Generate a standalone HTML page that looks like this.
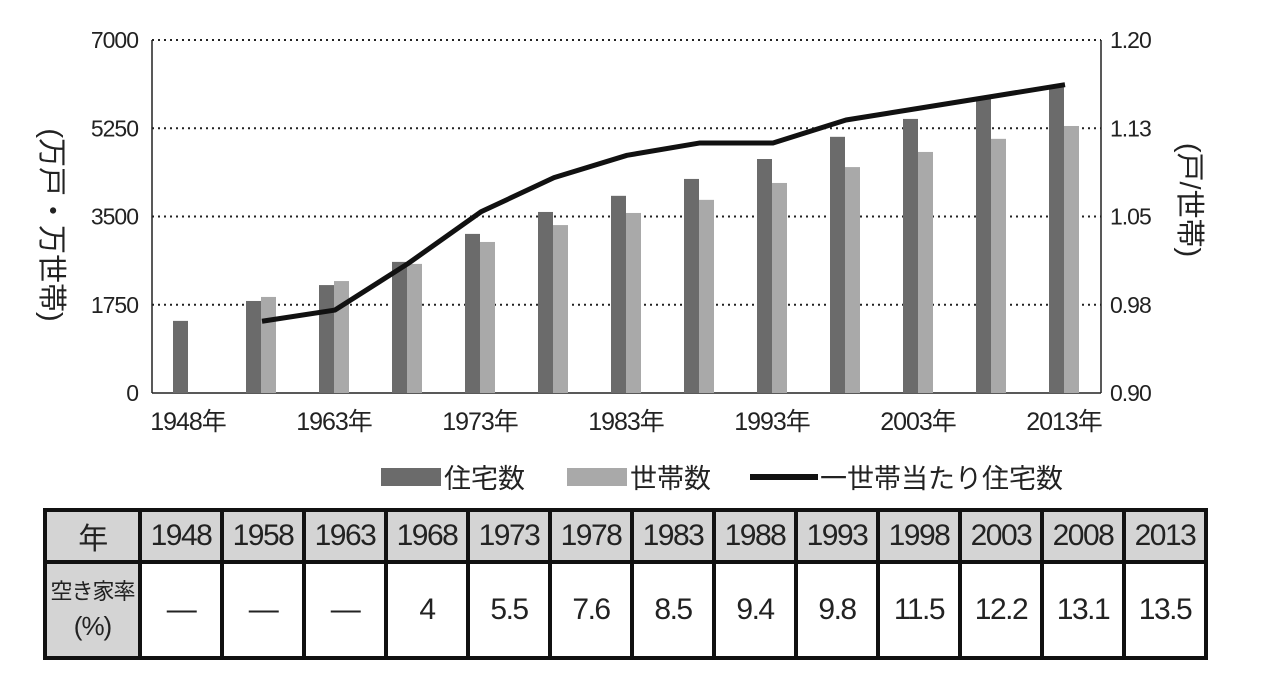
<!DOCTYPE html>
<html><head><meta charset="utf-8"><style>
body{margin:0;width:1281px;height:678px;background:#fff;overflow:hidden;font-family:"Liberation Sans","Noto Sans CJK JP",sans-serif;}
svg text{font-family:"Liberation Sans","Noto Sans CJK JP",sans-serif;}
table{position:absolute;left:43px;top:508px;width:1162px;table-layout:fixed;border-collapse:collapse;border:4px solid #111;}
td{border:4px solid #111;text-align:center;font-size:30px;color:#222;padding:0;letter-spacing:-1.5px;white-space:nowrap;overflow:hidden;}
tr.h td{background:#d4d4d4;height:48px;}
tr.v td{height:92px;}
td.f{background:#d4d4d4;}
</style></head><body>
<svg id="chart" width="1281" height="500" style="position:absolute;left:0;top:0"></svg>
<table>
<colgroup id="cg"><col style="width:95px"></colgroup>
<tr class="h" id="hrow"><td class="f">年</td></tr>
<tr class="v" id="vrow"><td class="f" style="font-size:22px;line-height:34px;letter-spacing:-1px">空き家率<br><span style="font-size:26px">(%)</span></td></tr>
</table>
<script>
const years=["1948","1958","1963","1968","1973","1978","1983","1988","1993","1998","2003","2008","2013"];
const housing=[1430,1825,2140,2600,3155,3590,3910,4245,4640,5080,5435,5870,6063];
const households=[null,1905,2220,2560,2995,3330,3570,3830,4165,4480,4780,5040,5295];
const ratio=[null,0.961,0.9705,1.01,1.054,1.083,1.102,1.1125,1.1125,1.132,1.142,1.152,1.162];
const leftTicks=[0,1750,3500,5250,7000];
const rightTickLabels=["0.90","0.98","1.05","1.13","1.20"];
const xLabels=["1948年","","1963年","","1973年","","1983年","","1993年","","2003年","","2013年"];
const vacancy=["—","—","—","4","5.5","7.6","8.5","9.4","9.8","11.5","12.2","13.1","13.5"];
const NS="http://www.w3.org/2000/svg",svg=document.getElementById('chart');
const L=152,R=1101,T=40,B=393;
const x=i=>L+73*i+37;
const yL=v=>B-(v/7000)*(B-T);
const yR=v=>B-((v-0.9)/0.3)*(B-T);
function mk(t,a,p){const e=document.createElementNS(NS,t);for(const k in a)e.setAttribute(k,a[k]);(p||svg).appendChild(e);return e;}
leftTicks.forEach((v,i)=>{
 if(i>0){const g=mk('line',{x1:L,x2:R,y1:yL(v),y2:yL(v),stroke:'#222','stroke-width':2,'stroke-dasharray':'2,4'});
 
 }
 const t=mk('text',{x:138,y:yL(v)+8,'text-anchor':'end','font-size':23,fill:'#222','letter-spacing':'-1'});t.textContent=v;
 
 
 const r=mk('text',{x:1110,y:yL(v)+8,'font-size':23,fill:'#222','letter-spacing':'-1'});r.textContent=rightTickLabels[i];
 
 
});
mk('line',{x1:L,x2:L,y1:T,y2:B,stroke:'#222','stroke-width':1.5});
mk('line',{x1:R,x2:R,y1:T,y2:B,stroke:'#222','stroke-width':1.5});
mk('line',{x1:L,x2:R,y1:B,y2:B,stroke:'#222','stroke-width':1.5});
years.forEach((y,i)=>{
 const b=mk('rect',{x:x(i)-16,y:yL(housing[i]),width:15,height:B-yL(housing[i]),fill:'#6b6b6b'});
 
 
 if(households[i]!=null){const c=mk('rect',{x:x(i)-1,y:yL(households[i]),width:15,height:B-yL(households[i]),fill:'#a9a9a9'});
 
 }
 if(xLabels[i]){const t=mk('text',{x:x(i)-1,y:430,'text-anchor':'middle','font-size':25,fill:'#222','letter-spacing':'-1'});t.textContent=xLabels[i];
 
 }
});
let d='';ratio.forEach((v,i)=>{if(v!=null)d+=(d?'L':'M')+x(i)+','+yR(v);});
const ln=mk('path',{d:d,fill:'none',stroke:'#111','stroke-width':5,'stroke-linejoin':'round'});


const yt=mk('text',{transform:'translate(42,225) rotate(90)','text-anchor':'middle','font-size':29,fill:'#222'});yt.textContent='(万戸・万世帯)';


const yt2=mk('text',{transform:'translate(1180,200) rotate(90)','text-anchor':'middle','font-size':29,fill:'#222'});yt2.textContent='(戸/世帯)';


const lg=mk('g',{});


mk('rect',{x:381,y:468,width:60,height:18,fill:'#6b6b6b'},lg);
mk('text',{x:444,y:488,'font-size':27,fill:'#222'},lg).textContent='住宅数';
mk('rect',{x:567,y:468,width:60,height:18,fill:'#a9a9a9'},lg);
mk('text',{x:630,y:488,'font-size':27,fill:'#222'},lg).textContent='世帯数';
mk('line',{x1:750,x2:818,y1:477,y2:477,stroke:'#111','stroke-width':6},lg);
mk('text',{x:820,y:488,'font-size':27,fill:'#222'},lg).textContent='一世帯当たり住宅数';
const hr=document.getElementById('hrow'),vr=document.getElementById('vrow'),cg=document.getElementById('cg');
years.forEach((y,i)=>{
 const c=document.createElement('col');c.style.width='82px';cg.appendChild(c);
 const a=document.createElement('td');a.textContent=y;
 
 
 hr.appendChild(a);
 const b=document.createElement('td');b.textContent=vacancy[i];
 
 
 vr.appendChild(b);
});
</script>
</body></html>
